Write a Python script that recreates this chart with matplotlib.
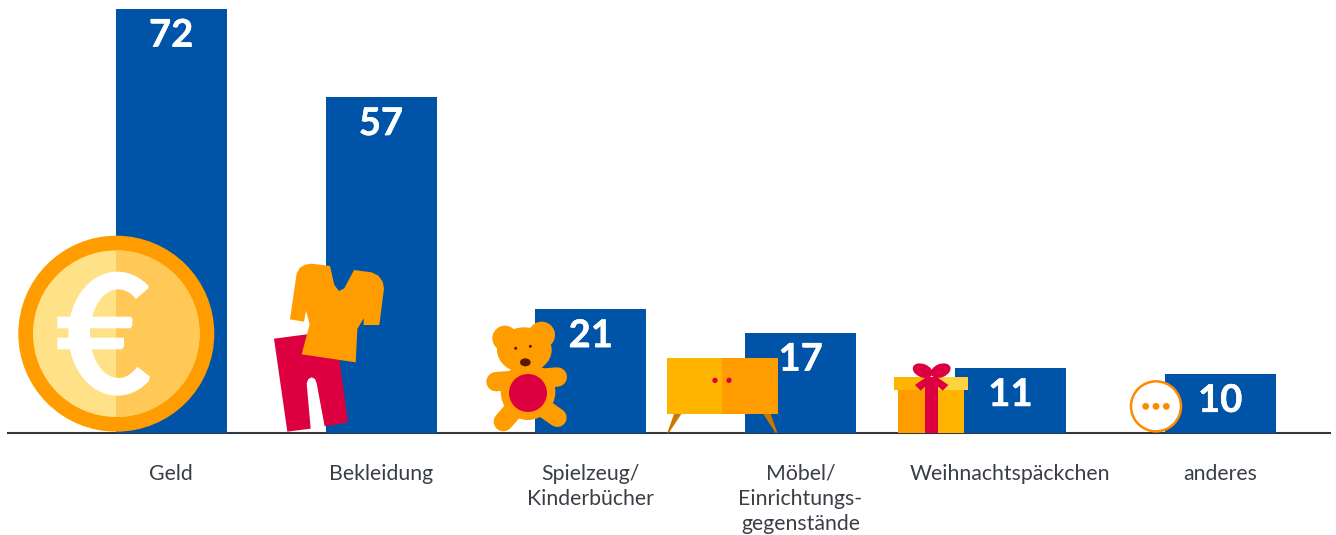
import numpy as np
import matplotlib
matplotlib.use("Agg")
import matplotlib.pyplot as plt
from matplotlib.patches import Circle, Ellipse, Polygon, Rectangle
import matplotlib.patheffects as pe

categories = ["Geld", "Bekleidung", "Spielzeug/\nKinderbücher", "Möbel/\nEinrichtungs-\ngegenstände",
              "Weihnachtspäckchen", "anderes"]
values = [72, 57, 21, 17, 11, 10]

plt.rcParams['font.family'] = ['Lato', 'Open Sans', 'DejaVu Sans']
BLUE = "#0054A8"; ORANGE = "#FF9D00"; AMBER = "#FFB400"; RED = "#DC0040"; TEXT = "#3A3F46"

W, H = 1336, 535
fig = plt.figure(figsize=(W / 100, H / 100), dpi=100, facecolor="white")
base = 433
ax = fig.add_axes([7 / W, (H - base) / H, (1331 - 7) / W, base / H])
pitch = 209.8; c0 = 171.2; ppu = 5.89
ax.set_xlim((7 - c0) / pitch, (1331 - c0) / pitch)
ax.set_ylim(0, base / ppu)
x = np.arange(len(values))
ax.bar(x, values, width=111 / pitch, color=BLUE, zorder=2)
for s in ("top", "left", "right"):
    ax.spines[s].set_visible(False)
ax.spines["bottom"].set_color("#33383F")
ax.spines["bottom"].set_linewidth(1.5)
ax.spines["bottom"].set_capstyle("butt")
ax.spines["bottom"].set_zorder(1)
ax.set_yticks([])
ax.set_xticks(x, categories, fontsize=15.3, color=TEXT, linespacing=1.32)
ax.tick_params(axis="x", length=0, pad=22)
for xi, v in zip(x, values):
    ax.annotate(str(v), (xi, v), xytext=(0, -19.3), textcoords="offset points", ha="center", va="center",
                fontsize=27.5, fontweight="bold", color="white", zorder=5,
                path_effects=[pe.withStroke(linewidth=0.3, foreground="white")])

# pictogram overlay, in pixel coordinates
ov = fig.add_axes([0, 0, 1, 1], zorder=3)
ov.set_xlim(0, W); ov.set_ylim(H, 0); ov.axis("off"); ov.patch.set_alpha(0)

def zm(pts, ox, oy):
    return [(ox + a / 3, oy + b / 3) for a, b in pts]
def poly(pts, ox, oy, col, z=1):
    ov.add_patch(Polygon(zm(pts, ox, oy), closed=True, fc=col, ec="none", zorder=z))

# coin
ox, oy = 0, 220
cx, cy = 116.3, 333.7
ov.add_patch(Circle((cx, cy), 98, fc=ORANGE, ec="none", zorder=1))
ov.add_patch(Circle((cx, cy), 83.3, fc="#FFE187", ec="none", zorder=2))
right = Circle((cx, cy), 83.3, fc="#FFC857", ec="none", zorder=2); ov.add_patch(right)
right.set_clip_path(Rectangle((cx, 0), 200, H, transform=ov.transData))
outer = [(352 + 147 * np.cos(t), 341 + 186 * np.sin(t)) for t in np.radians(np.linspace(-50, -310, 70))]
inner = [(355 + 85 * np.cos(t), 341 + 133 * np.sin(t)) for t in np.radians(np.linspace(-310, -50, 70))]
euro = outer + [(450, 470), (412, 440)] + inner + [(408, 237), (445, 205)]
poly(euro, ox, oy, "white", 3)
poly([(172, 290), (392, 290), (397, 295), (397, 318), (390, 325), (172, 325)], ox, oy, "white", 3)
poly([(172, 353), (372, 353), (372, 380), (365, 388), (172, 388)], ox, oy, "white", 3)

# clothes
poly([(822, 356), (921, 343), (1018, 420), (1044, 607), (974, 619), (950, 490), (945, 477), (935, 472),
      (925, 477), (920, 490), (932, 626), (862, 635)], ox, oy, RED, 1)
poly([(935, 131), (990, 138), (1003, 195), (1017, 213), (1033, 205), (1062, 150), (1115, 157), (1135, 167),
      (1148, 185), (1152, 205), (1138, 315), (1091, 315), (1091, 295), (1072, 327), (1067, 427), (905, 403),
      (929, 313), (918, 272), (912, 305), (870, 298), (890, 160), (900, 143), (915, 134)], ox, oy, ORANGE, 2)

# teddy
ox, oy = 470, 300
def circ(a, b, r, col, z=2, ry=None, angle=0):
    (px, py), = zm([(a, b)], ox, oy)
    ov.add_patch(Ellipse((px, py), 2 * r / 3, 2 * (ry or r) / 3, angle=angle, fc=col, ec="none", zorder=z))
def limb(p, q, w, col=ORANGE):
    pts = zm([p, q], ox, oy)
    ov.plot(*zip(*pts), color=col, lw=w / 3 * 0.72, solid_capstyle="round", zorder=2)
circ(105, 115, 38, ORANGE); circ(215, 105, 40, ORANGE)
circ(163, 150, 82, ORANGE, ry=68)
circ(174, 275, 82, ORANGE, ry=85)
limb((78, 245), (262, 231), 58)
limb((100, 365), (135, 325), 58)
limb((262, 353), (215, 320), 56)
circ(174, 279, 57, RED, 3)
circ(137, 145, 4.5, "#5A1A00", 3); circ(181, 139, 4.5, "#5A1A00", 3)
circ(166, 187, 16, "#5A1A00", 3, ry=12)

# cabinet
poly([(612, 342), (634, 342), (597, 398), (592, 398)], ox, oy, "#CC7700", 1)
poly([(880, 342), (902, 342), (922, 398), (916, 398)], ox, oy, "#CC7700", 1)
poly([(591, 174), (756, 174), (756, 342), (591, 342)], ox, oy, AMBER, 2)
poly([(756, 174), (924, 174), (924, 342), (756, 342)], ox, oy, ORANGE, 2)
circ(735, 241, 8, RED, 3); circ(777, 241, 8, RED, 3)

# gift
ox, oy = 880, 350
poly([(54, 120), (153, 120), (153, 248), (54, 248)], ox, oy, ORANGE, 1)
poly([(153, 120), (252, 120), (252, 248), (153, 248)], ox, oy, AMBER, 1)
poly([(42, 81), (153, 81), (153, 120), (42, 120)], ox, oy, AMBER, 1)
poly([(153, 81), (264, 81), (264, 120), (153, 120)], ox, oy, "#FFD23F", 1)
poly([(105, 105), (138, 82), (172, 82), (205, 105), (188, 122), (155, 92), (122, 122)], ox, oy, RED, 2)
circ(128, 62, 31, RED, 2, ry=20, angle=22)
circ(182, 62, 31, RED, 2, ry=20, angle=-22)
poly([(135, 81), (174, 81), (174, 248), (135, 248)], ox, oy, RED, 3)

# other
ov.add_patch(Circle((880 + 828 / 3, 350 + 169 / 3), 25, fc="white", ec="#FF8A00", lw=1.8, zorder=1))
for a in (797, 828, 859):
    ov.add_patch(Circle((880 + a / 3, 350 + 169 / 3), 3.4, fc="#FF8A00", ec="none", zorder=2))

fig.savefig("out.png", dpi=100)
